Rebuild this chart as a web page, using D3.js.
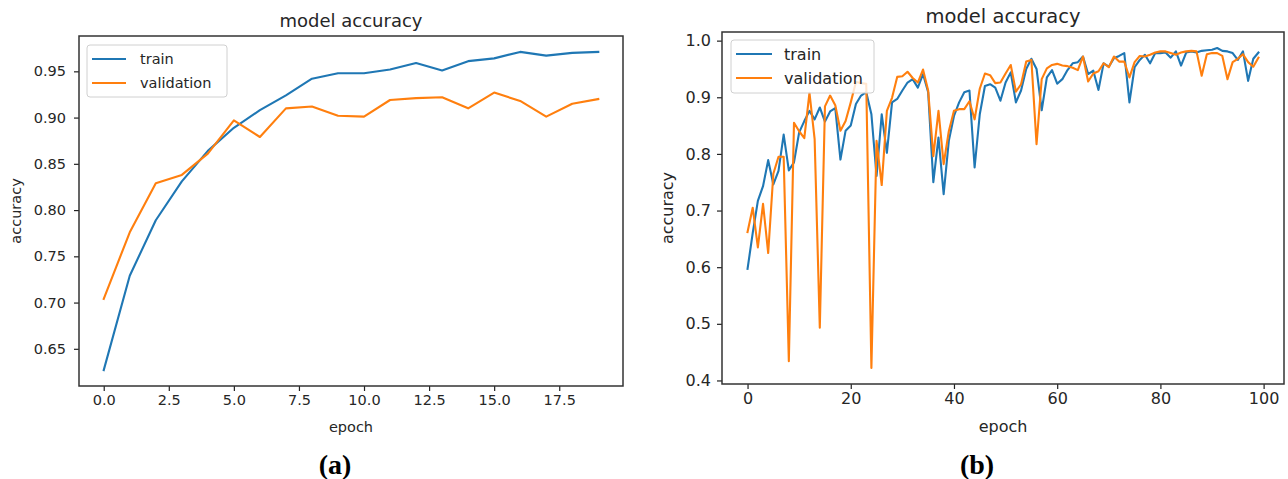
<!DOCTYPE html>
<html>
<head>
<meta charset="utf-8">
<script src="https://cdn.jsdelivr.net/npm/d3@7"></script>
<style>
  html, body { margin: 0; padding: 0; background: #fff; }
  svg { display: block; }
  .tick text { fill: #262626; font-family: "DejaVu Sans", sans-serif; }
</style>
</head>
<body>
<svg id="chart" width="1288" height="479"></svg>
<script>
// ---------- DATA ----------
const seriesNames = ["train", "validation"];
const colors = ["#1f77b4", "#ff7f0e"];

// Panel (a): 20 epochs
const epochsA = d3.range(0, 20);
const trainA = [0.627, 0.729, 0.789, 0.831, 0.864, 0.889, 0.908, 0.924, 0.942, 0.948,
                0.948, 0.952, 0.959, 0.951, 0.961, 0.964, 0.971, 0.967, 0.970, 0.971];
const valA   = [0.704, 0.776, 0.829, 0.838, 0.861, 0.897, 0.879, 0.910, 0.912, 0.902,
                0.901, 0.919, 0.921, 0.922, 0.910, 0.927, 0.918, 0.901, 0.915, 0.920];
const xTicksA = [0, 2.5, 5, 7.5, 10, 12.5, 15, 17.5];
const yTicksA = [0.65, 0.70, 0.75, 0.80, 0.85, 0.90, 0.95];

// Panel (b): 100 epochs
const epochsB = d3.range(0, 100);
const trainB = [
  0.597, 0.660, 0.717, 0.743, 0.789, 0.746, 0.770, 0.834, 0.771, 0.785,
  0.838, 0.858, 0.876, 0.861, 0.882, 0.857, 0.875, 0.881, 0.790, 0.841,
  0.850, 0.888, 0.903, 0.909, 0.870, 0.761, 0.870, 0.802, 0.891, 0.897,
  0.912, 0.926, 0.932, 0.917, 0.941, 0.909, 0.750, 0.829, 0.729, 0.823,
  0.867, 0.891, 0.909, 0.912, 0.776, 0.870, 0.920, 0.923, 0.917, 0.894,
  0.926, 0.944, 0.891, 0.912, 0.950, 0.968, 0.950, 0.877, 0.935, 0.948,
  0.924, 0.932, 0.948, 0.960, 0.962, 0.972, 0.941, 0.947, 0.913, 0.960,
  0.954, 0.969, 0.973, 0.978, 0.891, 0.953, 0.966, 0.975, 0.960, 0.978,
  0.978, 0.979, 0.970, 0.981, 0.956, 0.979, 0.981, 0.979, 0.982, 0.983,
  0.984, 0.987, 0.982, 0.981, 0.978, 0.966, 0.981, 0.929, 0.968, 0.979
];
const valB = [
  0.662, 0.705, 0.635, 0.712, 0.625, 0.765, 0.795, 0.795, 0.434, 0.855,
  0.840, 0.828, 0.908, 0.826, 0.493, 0.884, 0.903, 0.886, 0.841, 0.858,
  0.891, 0.927, 0.925, 0.924, 0.422, 0.823, 0.745, 0.876, 0.899, 0.936,
  0.937, 0.945, 0.934, 0.926, 0.949, 0.912, 0.796, 0.876, 0.782, 0.840,
  0.876, 0.879, 0.879, 0.893, 0.861, 0.915, 0.942, 0.939, 0.925, 0.926,
  0.942, 0.957, 0.910, 0.923, 0.963, 0.966, 0.817, 0.932, 0.951, 0.957,
  0.959, 0.956, 0.955, 0.952, 0.948, 0.972, 0.928, 0.942, 0.946, 0.960,
  0.953, 0.972, 0.963, 0.963, 0.935, 0.962, 0.973, 0.972, 0.975, 0.979,
  0.981, 0.981, 0.978, 0.975, 0.979, 0.981, 0.982, 0.981, 0.938, 0.976,
  0.978, 0.978, 0.973, 0.932, 0.962, 0.968, 0.976, 0.962, 0.954, 0.970
];
const xTicksB = [0, 20, 40, 60, 80, 100];
const yTicksB = [0.4, 0.5, 0.6, 0.7, 0.8, 0.9, 1.0];

const titleText = "model accuracy";
const xLabelText = "epoch";
const yLabelText = "accuracy";
const panelLabels = ["(a)", "(b)"];

// ---------- DRAW ----------
const svg = d3.select("#chart");

function drawPanel(cfg) {
  const { epochs, train, val, xTicks, yTicks, xFmt, yFmt, box, fs, titleFs, legend } = cfg;
  const g = svg.append("g");

  const xr = d3.extent(epochs);
  const xpad = (xr[1] - xr[0]) * 0.05;
  const x = d3.scaleLinear().domain([xr[0] - xpad, xr[1] + xpad]).range([box.left, box.right]);
  const all = train.concat(val);
  const yr = d3.extent(all);
  const ypad = (yr[1] - yr[0]) * 0.05;
  const y = d3.scaleLinear().domain([yr[0] - ypad, yr[1] + ypad]).range([box.bottom, box.top]);

  // axes
  const xAxis = d3.axisBottom(x).tickValues(xTicks).tickFormat(d3.format(xFmt)).tickSize(5).tickPadding(4);
  const yAxis = d3.axisLeft(y).tickValues(yTicks).tickFormat(d3.format(yFmt)).tickSize(5).tickPadding(box.yPad);

  const gx = g.append("g").attr("transform", `translate(0,${box.bottom})`).call(xAxis);
  const gy = g.append("g").attr("transform", `translate(${box.left},0)`).call(yAxis);
  [gx, gy].forEach(a => {
    a.select(".domain").remove();
    a.selectAll(".tick line").attr("stroke", "#222").attr("stroke-width", 1.2);
    a.selectAll(".tick text").attr("font-size", fs + "px").attr("fill", "#262626");
  });

  // lines
  const line = d3.line().x((d, i) => x(epochs[i])).y(d => y(d));
  [train, val].forEach((s, k) => {
    g.append("path").datum(s)
      .attr("d", line)
      .attr("fill", "none")
      .attr("stroke", colors[k])
      .attr("stroke-width", 2.1)
      .attr("stroke-linejoin", "round")
      .attr("stroke-linecap", "square");
  });

  // frame
  g.append("rect")
    .attr("x", box.left).attr("y", box.top)
    .attr("width", box.right - box.left).attr("height", box.bottom - box.top)
    .attr("fill", "none").attr("stroke", "#333").attr("stroke-width", 1.5);

  // title
  g.append("text")
    .attr("x", (box.left + box.right) / 2).attr("y", box.titleY)
    .attr("text-anchor", "middle")
    .attr("font-family", "DejaVu Sans, sans-serif")
    .attr("font-size", titleFs + "px").attr("fill", "#262626")
    .text(titleText);

  // x label
  g.append("text")
    .attr("x", (box.left + box.right) / 2).attr("y", box.xLabelY)
    .attr("text-anchor", "middle")
    .attr("font-family", "DejaVu Sans, sans-serif")
    .attr("font-size", fs + "px").attr("fill", "#262626")
    .text(xLabelText);

  // y label
  g.append("text")
    .attr("transform", `translate(${box.yLabelX},${(box.top + box.bottom) / 2}) rotate(-90)`)
    .attr("text-anchor", "middle")
    .attr("dominant-baseline", "central")
    .attr("font-family", "DejaVu Sans, sans-serif")
    .attr("font-size", fs + "px").attr("fill", "#262626")
    .text(yLabelText);

  // legend
  const lg = g.append("g");
  lg.append("rect")
    .attr("x", legend.x).attr("y", legend.y)
    .attr("width", legend.w).attr("height", legend.h)
    .attr("rx", 3).attr("ry", 3)
    .attr("fill", "#fff").attr("fill-opacity", 0.8)
    .attr("stroke", "#d0d0d0").attr("stroke-width", 1);
  seriesNames.forEach((name, k) => {
    const cy = legend.y + legend.row0 + k * legend.rowH;
    lg.append("line")
      .attr("x1", legend.x + legend.lx0).attr("x2", legend.x + legend.lx1)
      .attr("y1", cy).attr("y2", cy)
      .attr("stroke", colors[k]).attr("stroke-width", 2.1);
    lg.append("text")
      .attr("x", legend.x + legend.tx).attr("y", cy)
      .attr("dominant-baseline", "central")
      .attr("font-family", "DejaVu Sans, sans-serif")
      .attr("font-size", fs + "px").attr("fill", "#262626")
      .text(name);
  });

  // panel label
  svg.append("text")
    .attr("x", box.panelX).attr("y", 474)
    .attr("text-anchor", "middle")
    .attr("font-family", "Liberation Serif, Times New Roman, serif")
    .attr("font-weight", "bold")
    .attr("font-size", "28px").attr("fill", "#000")
    .text(box.panelLabel);
}

drawPanel({
  epochs: epochsA, train: trainA, val: valA,
  xTicks: xTicksA, yTicks: yTicksA, xFmt: ".1f", yFmt: ".2f",
  fs: 14.5, titleFs: 18,
  box: { left: 79, right: 623, top: 36, bottom: 386, yPad: 8, titleY: 27, xLabelY: 432, yLabelX: 16, panelX: 335, panelLabel: panelLabels[0] },
  legend: { x: 87, y: 45, w: 140, h: 52, row0: 14, rowH: 24, lx0: 5, lx1: 39, tx: 53 }
});

drawPanel({
  epochs: epochsB, train: trainB, val: valB,
  xTicks: xTicksB, yTicks: yTicksB, xFmt: "d", yFmt: ".1f",
  fs: 16, titleFs: 19.5,
  box: { left: 722, right: 1284, top: 32, bottom: 384, yPad: 6, titleY: 23, xLabelY: 432, yLabelX: 667, panelX: 977, panelLabel: panelLabels[1] },
  legend: { x: 731, y: 40, w: 143, h: 53, row0: 14, rowH: 24, lx0: 5, lx1: 41, tx: 53 }
});
</script>
</body>
</html>
